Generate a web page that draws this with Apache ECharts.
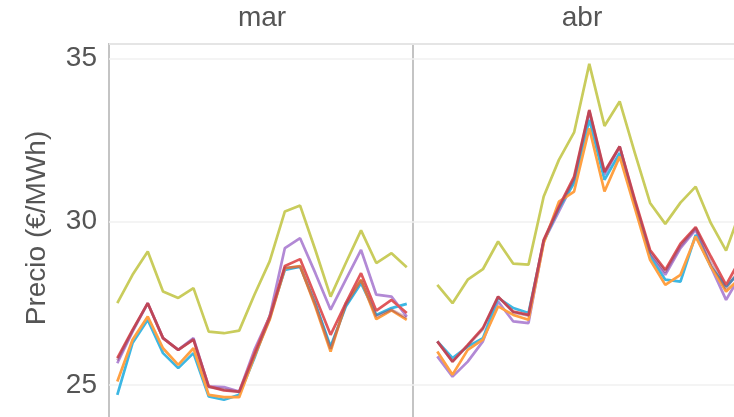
<!DOCTYPE html>
<html>
<head>
<meta charset="utf-8">
<script src="https://cdn.jsdelivr.net/npm/echarts@6/dist/echarts.min.js"></script>
<style>
  html, body { margin: 0; padding: 0; background: #ffffff; }
  #container { width: 734px; height: 417px; }
</style>
</head>
<body>
<div id="container"></div>
<script type="text/javascript">
// dias (posicion en el eje x) de cada panel
var diasMar = [1, 2, 3, 4, 5, 6, 7, 8, 9, 10, 11, 12, 13, 14, 15, 16, 17, 18, 19, 20];
var diasAbr = [2, 3, 4, 5, 6, 7, 8, 9, 10, 11, 12, 13, 14, 15, 16, 17, 18, 19, 20, 21, 22];

// precios de marzo
var amarilloMar = [27.50, 28.37, 29.08, 27.86, 27.66, 27.96, 26.63, 26.58, 26.66, 27.76, 28.78, 30.31, 30.49, 29.13, 27.70, 28.73, 29.73, 28.73, 29.03, 28.60];
var azulMar     = [24.69, 26.28, 26.99, 25.97, 25.51, 25.97, 24.64, 24.54, 24.69, 25.82, 27.09, 28.52, 28.62, 27.50, 26.17, 27.40, 28.11, 27.14, 27.35, 27.48];
var naranjaMar  = [25.10, 26.38, 27.09, 26.12, 25.61, 26.12, 24.69, 24.62, 24.62, 25.87, 26.99, 28.57, 28.64, 27.40, 26.02, 27.50, 28.22, 27.01, 27.28, 26.99];
var rojoMar     = [25.82, 26.68, 27.50, 26.43, 26.07, 26.38, 24.95, 24.83, 24.79, 25.97, 27.09, 28.64, 28.85, 27.70, 26.53, 27.50, 28.42, 27.27, 27.60, 27.20];
var moradoMar   = [25.66, 26.63, 27.50, 26.43, 26.07, 26.43, 24.95, 24.93, 24.79, 26.07, 27.09, 29.19, 29.49, 28.42, 27.30, 28.22, 29.13, 27.76, 27.70, 27.09];
var oscuroMar   = [25.75, 26.65, 27.50, 26.43, 26.07, 26.40, 24.93, 24.86, 24.78, 25.90, 27.02, 28.58, 28.62, 27.45, 26.10, 27.45, 28.20, 27.10, 27.30, 27.05];

// precios de abril
var amarilloAbr = [28.06, 27.50, 28.22, 28.54, 29.39, 28.71, 28.68, 30.77, 31.89, 32.73, 34.83, 32.93, 33.68, 32.10, 30.57, 29.93, 30.58, 31.07, 29.95, 29.11, 30.40];
var azulAbr     = [26.33, 25.82, 26.17, 26.43, 27.66, 27.35, 27.20, 29.39, 30.41, 31.18, 33.12, 31.28, 32.10, 30.51, 28.93, 28.22, 28.16, 29.59, 28.62, 28.01, 28.50];
var naranjaAbr  = [26.02, 25.31, 26.07, 26.38, 27.40, 27.14, 26.99, 29.34, 30.61, 30.92, 32.86, 30.92, 31.99, 30.41, 28.83, 28.06, 28.37, 29.54, 28.62, 27.86, 28.30];
var rojoAbr     = [26.33, 25.71, 26.22, 26.74, 27.70, 27.24, 27.14, 29.44, 30.46, 31.38, 33.42, 31.53, 32.30, 30.67, 29.13, 28.52, 29.32, 29.83, 28.93, 28.06, 28.90];
var moradoAbr   = [25.87, 25.25, 25.71, 26.33, 27.55, 26.94, 26.89, 29.39, 30.31, 31.23, 33.37, 31.43, 32.30, 30.57, 28.98, 28.37, 29.19, 29.75, 28.62, 27.60, 28.40];
var oscuroAbr   = [26.33, 25.71, 26.20, 26.70, 27.70, 27.22, 27.12, 29.42, 30.42, 31.30, 33.40, 31.50, 32.30, 30.62, 29.05, 28.45, 29.25, 29.80, 28.75, 27.95, 28.60];

var ticksY = [25, 30, 35];
var fuente = '"Liberation Sans", Arial, sans-serif';
var gris = '#555555';

function pares(dias, valores) {
    var out = [];
    for (var i = 0; i < dias.length; i++) {
        out.push([dias[i], valores[i]]);
    }
    return out;
}

// orden de dibujo y color de cada serie
var lineas = [
    { nombre: 'morado',   color: '#b289d5', mar: moradoMar,   abr: moradoAbr,   op: 1 },
    { nombre: 'azul',     color: '#3db7e3', mar: azulMar,     abr: azulAbr,     op: 1 },
    { nombre: 'naranja',  color: '#ffa042', mar: naranjaMar,  abr: naranjaAbr,  op: 1 },
    { nombre: 'rojo',     color: '#e0585b', mar: rojoMar,     abr: rojoAbr,     op: 1 },
    { nombre: 'amarillo', color: '#c9cc5c', mar: amarilloMar, abr: amarilloAbr, op: 1 },
    { nombre: 'oscuro',   color: '#7d2450', mar: oscuroMar,   abr: oscuroAbr,   op: 0.35 }
];

var series = [];
lineas.forEach(function (l) {
    series.push({
        name: l.nombre, type: 'line', xAxisIndex: 0, yAxisIndex: 0,
        data: pares(diasMar, l.mar), symbol: 'none', silent: true,
        lineStyle: { color: l.color, width: 2.7, opacity: l.op }
    });
    series.push({
        name: l.nombre, type: 'line', xAxisIndex: 1, yAxisIndex: 1,
        data: pares(diasAbr, l.abr), symbol: 'none', silent: true,
        lineStyle: { color: l.color, width: 2.7, opacity: l.op }
    });
});

var ejeY = function (conEtiquetas) {
    return {
        type: 'value', min: 20, max: 35.44, interval: 5,
        axisLine: { show: false }, axisTick: { show: false },
        splitLine: { show: true, lineStyle: { color: '#f0f0f0', width: 1.5 } },
        axisLabel: {
            show: conEtiquetas, showMaxLabel: false, margin: 12,
            fontSize: 28, fontFamily: fuente, color: gris,
            formatter: function (v) { return ticksY.indexOf(v) >= 0 ? String(v) : ''; }
        }
    };
};

var dom = document.getElementById('container');
var myChart = echarts.init(dom, null, { renderer: 'canvas' });
myChart.setOption({
    backgroundColor: '#ffffff',
    animation: false,
    grid: [
        { left: 109, top: 44, width: 304, height: 504, outerBoundsMode: 'none', containLabel: false, show: true, borderColor: '#c4c4c4', borderWidth: 2, backgroundColor: 'transparent' },
        { left: 413, top: 44, width: 338, height: 504, outerBoundsMode: 'none', containLabel: false, show: true, borderColor: '#c4c4c4', borderWidth: 2, backgroundColor: 'transparent' }
    ],
    xAxis: [
        { type: 'value', gridIndex: 0, min: 0.455, max: 20.41, show: false },
        { type: 'value', gridIndex: 1, min: 0.4, max: 22.64, show: false }
    ],
    yAxis: [
        Object.assign({ gridIndex: 0 }, ejeY(true)),
        Object.assign({ gridIndex: 1 }, ejeY(false))
    ],
    graphic: [
        { type: 'text', x: 262, y: 18.5, style: { text: 'mar', align: 'center', verticalAlign: 'middle', font: '28px ' + fuente, fill: gris } },
        { type: 'text', x: 582, y: 18.5, style: { text: 'abr', align: 'center', verticalAlign: 'middle', font: '28px ' + fuente, fill: gris } },
        { type: 'text', x: 37.5, y: 228, rotation: Math.PI / 2, style: { text: 'Precio (€/MWh)', align: 'center', verticalAlign: 'middle', font: '28px ' + fuente, fill: gris } }
    ],
    series: series
});
</script>
</body>
</html>
